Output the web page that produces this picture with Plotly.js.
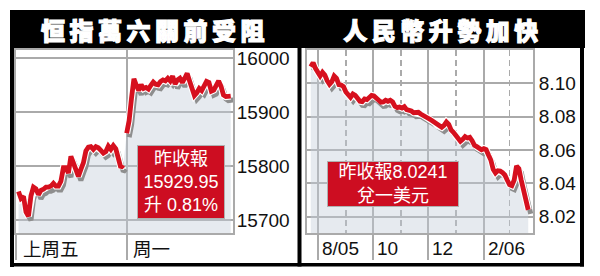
<!DOCTYPE html>
<html><head><meta charset="utf-8">
<script src="https://cdn.plot.ly/plotly-3.0.1.min.js"></script>
<style>html,body{margin:0;padding:0;background:#fff;} #chart{width:600px;height:276px;}</style>
</head><body><div id="chart"></div>
<script>
// ---- data ----
const hsiTitle = '恒指萬六關前受阻';
const cnyTitle = '人民幣升勢加快';
const hsiDayLabels = ['上周五', '周一'];
const hsiFriday = [15753, 15740, 15744, 15715, 15707, 15745, 15761, 15758, 15747, 15755, 15757, 15761, 15761, 15763, 15768, 15763, 15763, 15772, 15797, 15797, 15787, 15818, 15806, 15791, 15781, 15794, 15806, 15828, 15835, 15836, 15831, 15836, 15834, 15829, 15824, 15827, 15837, 15831, 15838, 15832, 15817, 15797, 15802];
const hsiMonday = [15861, 15884, 15926, 15962, 15950, 15940, 15951, 15944, 15946, 15943, 15950, 15956, 15952, 15951, 15957, 15960, 15958, 15963, 15958, 15967, 15952, 15960, 15963, 15955, 15963, 15972, 15958, 15940, 15931, 15936, 15944, 15940, 15951, 15957, 15955, 15939, 15941, 15952, 15958, 15948, 15932, 15929, 15929, 15930];
const hsiTicks = [15700, 15800, 15900, 16000];
const hsiNote = ['昨收報', '15929.95', '升 0.81%'];

const cnyStart = '2005-07-24';
const cnyEnd = '2006-03-22';
const cnyRate = [8.1100, 8.1124, 8.1090, 8.1064, 8.1044, 8.1066, 8.1050, 8.1016, 8.0994, 8.1010,
  8.1044, 8.1030, 8.0992, 8.0990, 8.0980, 8.0948, 8.0926, 8.0916, 8.0936, 8.0928,
  8.0910, 8.0892, 8.0890, 8.0906, 8.0902, 8.0916, 8.0928, 8.0924, 8.0914, 8.0900,
  8.0886, 8.0888, 8.0898, 8.0892, 8.0898, 8.0888, 8.0862, 8.0854, 8.0858, 8.0852,
  8.0860, 8.0842, 8.0840, 8.0834, 8.0824, 8.0824, 8.0826, 8.0816, 8.0810, 8.0802,
  8.0792, 8.0784, 8.0774, 8.0764, 8.0748, 8.0744, 8.0736, 8.0748, 8.0768, 8.0754,
  8.0720, 8.0706, 8.0686, 8.0668, 8.0652, 8.0664, 8.0680, 8.0672, 8.0676, 8.0656,
  8.0628, 8.0620, 8.0610, 8.0602, 8.0608, 8.0602, 8.0570, 8.0540, 8.0484, 8.0462,
  8.0476, 8.0474, 8.0464, 8.0450, 8.0420, 8.0392, 8.0386, 8.0420, 8.0504, 8.0488,
  8.0420, 8.0360, 8.0320, 8.0241];
const cnyTickDates = ['2005-08-01', '2005-10-01', '2005-12-01', '2006-02-01'];
const cnyTickLabels = ['8/05', '10', '12', '2/06'];
const cnyTicks = [8.02, 8.04, 8.06, 8.08, 8.10];
const cnyNote = ['昨收報8.0241', '兌一美元'];

// ---- geometry ----
const W = 600, H = 276;
const px = v => v / W, py = v => 1 - v / H;
const plotTop = 50, plotBottom = 233;
const hsiRange = [-0.023, 1.977], hsiYRange = [15675.9, 16015.4], hsiDom = [16, 233];
const cnyRange = ['2005-07-19 19:00', '2006-03-27 07:00'], cnyYRange = [8.0102, 8.12], cnyDom = [307, 533];
const SHADOW_DX = 2.5, SHADOW_DY = 4; // px offset of drop shadow

function spread(a, b, n) { const o = []; for (let i = 0; i < n; i++) o.push(a + (b - a) * i / (n - 1)); return o; }
const friX = spread(0, 0.966, hsiFriday.length);
const monX = spread(0.997, 1.956, hsiMonday.length);
const hsiX = friX.concat([0.98], monX);
const hsiY = hsiFriday.concat([null], hsiMonday);

const t0 = Date.parse(cnyStart), t1 = Date.parse(cnyEnd);
const cnyT = spread(t0, t1, cnyRate.length);
const toStr = t => new Date(t).toISOString().slice(0, 19).replace('T', ' ');
const cnyX = cnyT.map(toStr);

// shadow copies: same values, shifted by a few pixels via the axis scale
const hsiXpp = (hsiRange[1] - hsiRange[0]) / (hsiDom[1] - hsiDom[0]);
const hsiYpp = (hsiYRange[1] - hsiYRange[0]) / (plotBottom - plotTop);
const cnyXpp = (Date.parse(cnyRange[1].replace(' ', 'T') + 'Z') - Date.parse(cnyRange[0].replace(' ', 'T') + 'Z')) / (cnyDom[1] - cnyDom[0]);
const cnyYpp = (cnyYRange[1] - cnyYRange[0]) / (plotBottom - plotTop);
const hsiSX = hsiX.map(v => v + SHADOW_DX * hsiXpp);
const hsiSY = hsiY.map(v => v === null ? null : v - SHADOW_DY * hsiYpp);
const cnySX = cnyT.map(t => toStr(t + SHADOW_DX * cnyXpp));
const cnySY = cnyRate.map(v => v - SHADOW_DY * cnyYpp);

// ---- styles ----
const RED = '#d6101e', GRID = '#aaaaaa', FILL = 'rgba(196,206,218,0.42)', SHADOW = '#8e8e8e';

function lineSet(x, y, sx, sy, xa, ya) {
  return [
    {x, y, xaxis: xa, yaxis: ya, type: 'scatter', mode: 'lines', line: {width: 0, color: 'rgba(0,0,0,0)'}, fill: 'tozeroy', fillcolor: FILL, hoverinfo: 'skip'},
    {x: sx, y: sy, xaxis: xa, yaxis: ya, type: 'scatter', mode: 'lines', line: {width: 5, color: SHADOW}, hoverinfo: 'skip'},
    {x, y, xaxis: xa, yaxis: ya, type: 'scatter', mode: 'lines', line: {width: 7, color: '#ffffff'}, hoverinfo: 'skip'},
    {x, y, xaxis: xa, yaxis: ya, type: 'scatter', mode: 'lines', line: {width: 4.8, color: RED}, hoverinfo: 'skip'}
  ];
}
const data = lineSet(hsiX, hsiY, hsiSX, hsiSY, 'x', 'y').concat(lineSet(cnyX, cnyRate, cnySX, cnySY, 'x2', 'y2'));

const axisCommon = {showline: true, mirror: true, linecolor: GRID, linewidth: 2, zeroline: false, showgrid: true, gridcolor: GRID, gridwidth: 2, fixedrange: true};
const tickFont = {family: 'Liberation Sans, Arial, sans-serif', size: 19, color: '#111'};

function rect(x0, y0, x1, y1) {
  return {type: 'rect', xref: 'paper', yref: 'paper', x0: px(x0), x1: px(x1), y0: py(y1), y1: py(y0), fillcolor: '#000', line: {width: 0}, layer: 'above'};
}

const cjk = 'Noto Sans CJK TC, Liberation Sans, sans-serif';
const annotations = [
  {xref: 'paper', yref: 'paper', x: px(155), y: py(29), text: hsiTitle, showarrow: false, xanchor: 'center', yanchor: 'middle', font: {family: cjk, size: 24, weight: 900, color: '#fff'}},
  {xref: 'paper', yref: 'paper', x: px(443), y: py(29), text: cnyTitle, showarrow: false, xanchor: 'center', yanchor: 'middle', font: {family: cjk, size: 24, weight: 900, color: '#fff'}},
  {xref: 'paper', yref: 'paper', x: px(180.5), y: py(181.5), text: hsiNote.join('<br>'), showarrow: false, xanchor: 'center', yanchor: 'middle', width: 86, height: 72, borderpad: 0, bgcolor: '#cd0d21', bordercolor: '#b0b0b0', borderwidth: 1, align: 'center', valign: 'middle', font: {family: 'Liberation Sans, Noto Sans CJK TC, sans-serif', size: 18, color: '#fff'}},
  {xref: 'paper', yref: 'paper', x: px(392.5), y: py(184.2), text: cnyNote.join('<br>'), showarrow: false, xanchor: 'center', yanchor: 'middle', width: 130, height: 44, borderpad: 0, bgcolor: '#cd0d21', bordercolor: '#b0b0b0', borderwidth: 1, align: 'center', valign: 'middle', font: {family: 'Liberation Sans, Noto Sans CJK TC, sans-serif', size: 18, color: '#fff'}},
  {xref: 'x', yref: 'paper', x: -0.023, y: py(248), text: hsiDayLabels[0], showarrow: false, xanchor: 'left', yanchor: 'middle', xshift: 5, font: {family: cjk, size: 18.5, color: '#111'}},
  {xref: 'x', yref: 'paper', x: 1, y: py(248), text: hsiDayLabels[1], showarrow: false, xanchor: 'left', yanchor: 'middle', xshift: 4, font: {family: cjk, size: 18.5, color: '#111'}}
];
cnyTickDates.forEach((d, i) => annotations.push({xref: 'x2', yref: 'paper', x: d, y: py(248), text: cnyTickLabels[i], showarrow: false, xanchor: 'left', yanchor: 'middle', xshift: 2, font: tickFont}));

const layout = {
  width: W, height: H, margin: {l: 0, r: 0, t: 0, b: 0}, paper_bgcolor: '#fff', plot_bgcolor: '#fff', showlegend: false, hovermode: false,
  xaxis: Object.assign({}, axisCommon, {domain: [px(hsiDom[0]), px(hsiDom[1])], range: hsiRange, tickvals: [-0.0228, 1], showticklabels: false, ticks: 'outside', ticklen: 25, tickwidth: 2, tickcolor: GRID, anchor: 'y'}),
  yaxis: Object.assign({}, axisCommon, {domain: [py(plotBottom), py(plotTop)], range: hsiYRange, side: 'right', tickvals: hsiTicks, tickformat: 'd', ticks: '', tickfont: tickFont, ticklabelstandoff: -2, anchor: 'x'}),
  xaxis2: Object.assign({}, axisCommon, {domain: [px(cnyDom[0]), px(cnyDom[1])], type: 'date', range: cnyRange, tick0: '2005-08-01', dtick: 'M2', showticklabels: false, ticks: 'outside', ticklen: 25, tickwidth: 2, tickcolor: GRID, anchor: 'y2',
    minor: {tick0: '2005-08-01', dtick: 'M1', showgrid: true, griddash: '6px,4px', gridcolor: GRID, gridwidth: 1.5, ticks: ''}}),
  yaxis2: Object.assign({}, axisCommon, {domain: [py(plotBottom), py(plotTop)], range: cnyYRange, side: 'right', tickvals: cnyTicks, tickformat: '.2f', ticks: '', tickfont: tickFont, anchor: 'x2'}),
  shapes: [rect(10, 10, 585, 48), rect(10, 10, 14, 267), rect(297.5, 10, 301.5, 266.5), rect(580, 10, 584, 266.5), rect(10, 263, 584, 266.5)],
  annotations
};

function finish() {
  document.querySelectorAll('#chart .annotation-text').forEach(t => {
    if (t.textContent === hsiTitle || t.textContent === cnyTitle) {
      t.style.letterSpacing = '4.5px';
      t.style.stroke = '#fff';
      t.style.strokeWidth = '1.1px';
    }
  });
}
Plotly.newPlot('chart', data, layout, {staticPlot: true, displayModeBar: false}).then(finish);
</script>
</body></html>
